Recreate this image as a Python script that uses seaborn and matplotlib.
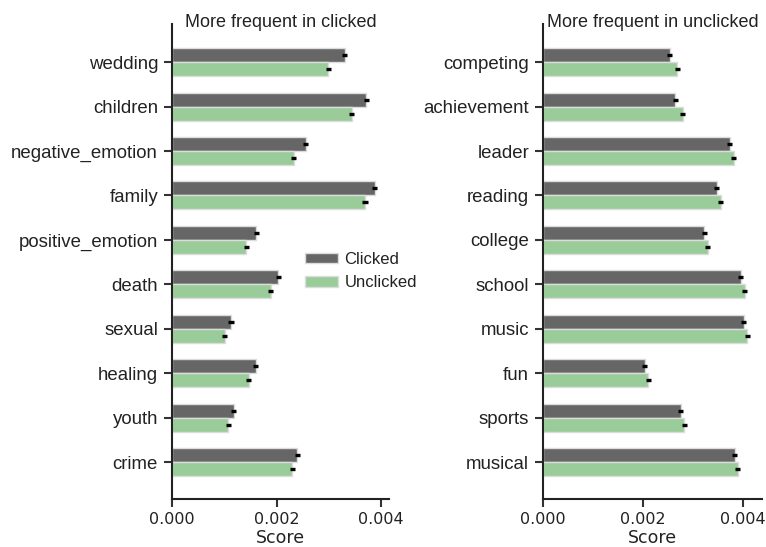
import matplotlib
matplotlib.use("Agg")
import matplotlib.pyplot as plt
import seaborn as sns
import pandas as pd

# Word-category scores for clicked vs. unclicked items
clicked_words = ["wedding", "children", "negative_emotion", "family", "positive_emotion",
                 "death", "sexual", "healing", "youth", "crime"]
clicked_side_clicked = [0.00330, 0.00372, 0.00256, 0.00388, 0.00161,
                        0.00203, 0.00113, 0.00160, 0.00118, 0.00240]
clicked_side_unclicked = [0.00299, 0.00344, 0.00233, 0.00369, 0.00142,
                          0.00189, 0.00101, 0.00147, 0.00108, 0.00230]

unclicked_words = ["competing", "achievement", "leader", "reading", "college",
                   "school", "music", "fun", "sports", "musical"]
unclicked_side_clicked = [0.00253, 0.00264, 0.00373, 0.00347, 0.00322,
                          0.00395, 0.00401, 0.00203, 0.00275, 0.00383]
unclicked_side_unclicked = [0.00268, 0.00279, 0.00381, 0.00355, 0.00329,
                            0.00403, 0.00408, 0.00210, 0.00282, 0.00389]

# standard errors (same order as the score lists)
err_left_clicked = [0.00005] * 10
err_left_unclicked = [0.00005] * 10
err_right_clicked = [0.00005] * 10
err_right_unclicked = [0.00005] * 10

groups = ["Clicked", "Unclicked"]
colors = {"Clicked": "#666666", "Unclicked": "#99cc99"}
titles = ["More frequent in clicked", "More frequent in unclicked"]
xticks = [0.0, 0.002, 0.004]
xtick_labels = ["0.000", "0.002", "0.004"]

sns.set_style("ticks")
plt.rcParams["font.family"] = ["DejaVu Sans"]
SANS = ["Liberation Sans", "DejaVu Sans"]

fig = plt.figure(figsize=(7.66, 5.47), dpi=100)
ax_left = fig.add_axes([0.2245, 0.0878, 0.2833, 0.8684])
ax_right = fig.add_axes([0.7089, 0.0878, 0.2860, 0.8684])

panels = [
    (ax_left, clicked_words, clicked_side_clicked, clicked_side_unclicked,
     err_left_clicked, err_left_unclicked, 0.00415),
    (ax_right, unclicked_words, unclicked_side_clicked, unclicked_side_unclicked,
     err_right_clicked, err_right_unclicked, 0.00438),
]

for i, (ax, words, vc, vu, ec, eu, xmax) in enumerate(panels):
    df = pd.DataFrame({
        "word": words * 2,
        "score": vc + vu,
        "group": ["Clicked"] * len(words) + ["Unclicked"] * len(words),
    })
    sns.barplot(data=df, y="word", x="score", hue="group", hue_order=groups,
                palette=colors, saturation=1, orient="h", width=0.63,
                errorbar=None, edgecolor="#dcdcdc", linewidth=1.0, ax=ax)
    for cont, errs in zip(ax.containers, [ec, eu]):
        xs = [b.get_width() for b in cont]
        ys = [b.get_y() + b.get_height() / 2 for b in cont]
        ax.errorbar(xs, ys, xerr=errs, fmt="none", ecolor="black",
                    elinewidth=2.4, capsize=0, zorder=5)
    ax.set_xlim(0, xmax)
    ax.set_ylim(9.83, -0.86)
    ax.set_xticks(xticks)
    ax.set_xticklabels(xtick_labels)
    ax.set_ylabel("")
    ax.set_xlabel("Score", fontsize=12.5, labelpad=1, color="#222222")
    ax.set_title(titles[i], fontsize=13, family=SANS, pad=0, y=0.994,
                 color="#222222")
    ax.tick_params(axis="both", length=6, width=1.5, colors="#333333",
                   labelcolor="#222222")
    ax.tick_params(axis="x", labelsize=11.5)
    ax.tick_params(axis="y", labelsize=13.4, pad=4)
    for lab in ax.get_yticklabels():
        lab.set_family(SANS)
    for s in ["left", "bottom"]:
        ax.spines[s].set_linewidth(1.5)
        ax.spines[s].set_color("#222222")
    sns.despine(ax=ax)
    leg = ax.get_legend()
    if leg is not None:
        leg.remove()

handles, labels = ax_left.get_legend_handles_labels()
ax_left.legend(handles[:2], labels[:2], frameon=False, loc="center left",
               bbox_to_anchor=(0.545, 0.48), prop={"family": SANS, "size": 12},
               handlelength=1.95, handleheight=0.6, handletextpad=0.4,
               labelspacing=0.5, labelcolor="#222222")

fig.savefig("out.png", dpi=100)
